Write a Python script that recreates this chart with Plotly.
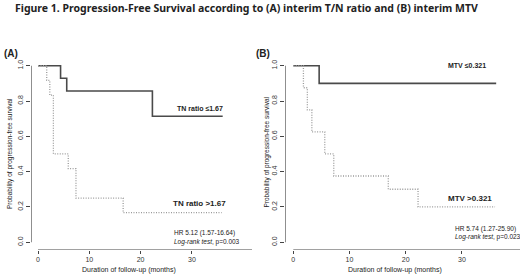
import plotly.graph_objects as go

# ---- data ----
a_low_t = [0, 4.4, 5.6, 22.3, 36.0]
a_low_s = [1.0, 0.929, 0.857, 0.714, 0.714]
a_high_t = [0, 1.7, 2.3, 3.0, 5.9, 7.4, 16.6, 35.8]
a_high_s = [1.0, 0.917, 0.833, 0.5, 0.417, 0.25, 0.167, 0.167]
b_low_t = [0, 4.6, 36.1]
b_low_s = [1.0, 0.9, 0.9]
b_high_t = [0, 1.8, 2.5, 3.3, 5.6, 7.2, 16.9, 22.2, 35.9]
b_high_s = [1.0, 0.875, 0.75, 0.625, 0.5, 0.375, 0.3, 0.2, 0.2]
x_ticks = [0, 10, 20, 30]
y_ticks = [0.0, 0.2, 0.4, 0.6, 0.8, 1.0]

W, H = 520, 278
SOLID = "#4a4a4a"
DOT = "#9a9a9a"
TXT = "#222222"
NARROW = "Liberation Sans Narrow, Arial Narrow, sans-serif"

def px(x):
    return x / W

def py(y):
    return 1 - y / H

fig = go.Figure()
fig.add_trace(go.Scatter(x=a_low_t, y=a_low_s, mode="lines", line=dict(shape="hv", color=SOLID, width=1.6),
                         xaxis="x", yaxis="y", showlegend=False))
fig.add_trace(go.Scatter(x=a_high_t, y=a_high_s, mode="lines", line=dict(shape="hv", color=DOT, width=1.3, dash="1px,1.5px"),
                         xaxis="x", yaxis="y", showlegend=False))
fig.add_trace(go.Scatter(x=b_low_t, y=b_low_s, mode="lines", line=dict(shape="hv", color=SOLID, width=1.6),
                         xaxis="x2", yaxis="y2", showlegend=False))
fig.add_trace(go.Scatter(x=b_high_t, y=b_high_s, mode="lines", line=dict(shape="hv", color=DOT, width=1.3, dash="1px,1.5px"),
                         xaxis="x2", yaxis="y2", showlegend=False))

# axis geometry (pixels)
A_yax, A_x0, A_ppm = 31, 38, 5.13
A_right = 252
B_yax, B_x0, B_ppm = 285, 293.3, 5.62
B_right = 520
y_top1, y_zero, xax_pix = 65.7, 242.2, 249.5
top_pix = 60

def yval(p):
    return (y_zero - p) / (y_zero - y_top1)

yr = [yval(xax_pix), yval(top_pix)]
A_range = [(A_yax - A_x0) / A_ppm, (A_right - A_x0) / A_ppm]
B_range = [(B_yax - B_x0) / B_ppm, (B_right - B_x0) / B_ppm]

axcommon = dict(showgrid=False, zeroline=False, showline=False, ticks="outside",
                tickcolor="#444", tickfont=dict(size=7, color="#333", family="Liberation Sans, Arial, sans-serif"))

fig.update_layout(
    width=W, height=H, autosize=False,
    margin=dict(l=0, r=0, t=0, b=0),
    paper_bgcolor="white", plot_bgcolor="white",
    xaxis=dict(domain=[px(A_yax), px(A_right)], range=A_range, anchor="y", tickvals=x_ticks,
               ticklen=3, **axcommon),
    yaxis=dict(domain=[py(xax_pix), py(top_pix)], range=yr, anchor="x", tickvals=y_ticks,
               tickformat=".1f", tickangle=-90, ticklen=4, **axcommon),
    xaxis2=dict(domain=[px(B_yax), px(B_right)], range=B_range, anchor="y2", tickvals=x_ticks,
                ticklen=3, **axcommon),
    yaxis2=dict(domain=[py(xax_pix), py(top_pix)], range=yr, anchor="x2", tickvals=y_ticks,
                tickformat=".1f", tickangle=-90, ticklen=4, **axcommon),
)

# R-style partial axis lines
shapes = []
for xa, ya, rng in (("x", "y", A_range), ("x2", "y2", B_range)):
    shapes.append(dict(type="line", xref=xa, yref=ya, x0=rng[0], x1=rng[0], y0=0, y1=1,
                       line=dict(color="#444", width=1.2)))
    shapes.append(dict(type="line", xref=xa, yref=ya, x0=0, x1=rng[1], y0=yr[0], y1=yr[0],
                       line=dict(color="#444", width=1.2)))
fig.update_layout(shapes=shapes)

def ann(text, x, y, size, bold=False, family=NARROW, xanchor="center", angle=0, color=TXT):
    if bold:
        text = "<b>" + text + "</b>"
    fig.add_annotation(text=text, x=px(x), y=py(y), xref="paper", yref="paper", showarrow=False,
                       xanchor=xanchor, yanchor="middle", textangle=angle,
                       font=dict(size=size, family=family, color=color))

ann("Figure 1. Progression-Free Survival according to (A) interim T/N ratio and (B) interim MTV",
    13, 7.5, 10.5, bold=True, family="Noto Sans, sans-serif", xanchor="left")
ann("(A)", 2, 53, 10, bold=True, family="Liberation Sans, Arial, sans-serif", xanchor="left")
ann("(B)", 254, 53, 10, bold=True, family="Liberation Sans, Arial, sans-serif", xanchor="left")

ann("TN ratio ≤1.67", 200, 108, 7, bold=True)
ann("TN ratio >1.67", 199, 203, 8, bold=True)
ann("HR 5.12 (1.57-16.64)", 171.5, 233, 6.5, xanchor="left")
ann("<i>Log-rank test</i>, p=0.003", 171.5, 241.5, 6.5, xanchor="left")

ann("MTV ≤0.321", 467, 65, 7, bold=True)
ann("MTV >0.321", 470, 198, 8, bold=True)
ann("HR 5.74 (1.27-25.90)", 452.5, 228.5, 6.5, xanchor="left")
ann("<i>Log-rank test</i>, p=0.023", 452.5, 236.5, 6.5, xanchor="left")

ann("Duration of follow-up (months)", 129, 269.5, 7, family=NARROW)
ann("Duration of follow-up (months)", 395, 269.5, 7, family=NARROW)
ann("Probability of progression-free survival", 10, 154, 6.5, family=NARROW, angle=-90)
ann("Probability of progression-free survival", 266.5, 152, 6.5, family=NARROW, angle=-90)

fig.write_html("out.html", config={"displayModeBar": False},
               post_script="document.body.style.margin='0';document.body.style.overflow='hidden';")
